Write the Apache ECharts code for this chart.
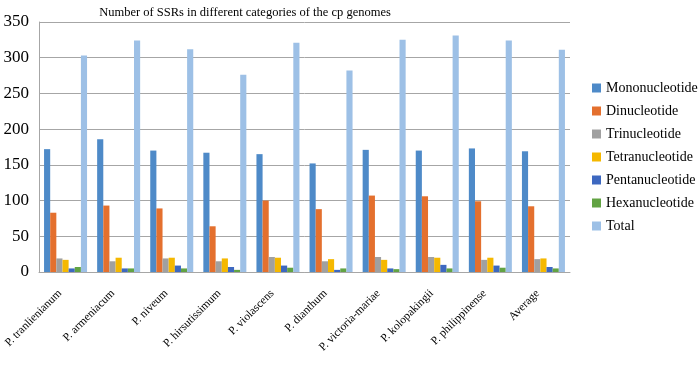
<!DOCTYPE html>
<html>
<head>
<meta charset="utf-8">
<script src="https://cdn.jsdelivr.net/npm/echarts@6/dist/echarts.min.js"></script>
<style>
  html, body { margin: 0; padding: 0; background: #fff; }
  #chart { width: 699px; height: 366px; }
</style>
</head>
<body>
<div id="chart"></div>
<script>
// categories
const species = ['P. tranlienianum', 'P. armeniacum', 'P. niveum', 'P. hirsutissimum', 'P. violascens',
  'P. dianthum', 'P. victoria-mariae', 'P. kolopakingii', 'P. philippinense', 'Average'];

// series values
const mono  = [172, 186, 170, 167, 165, 152, 171, 170, 173, 169];
const di    = [83, 93, 89, 64, 100, 88, 107, 106, 99, 92];
const tri   = [19, 15, 19, 15, 21, 15, 21, 21, 17, 18];
const tetra = [17, 20, 20, 19, 20, 18, 17, 20, 20, 19];
const penta = [5, 5, 9, 7, 9, 3, 5, 10, 9, 7];
const hexa  = [7, 5, 5, 3, 6, 5, 4, 5, 6, 5];
const total = [303, 324, 312, 276, 321, 282, 325, 331, 324, 311];

const seriesNames = ['Mononucleotide', 'Dinucleotide', 'Trinucleotide', 'Tetranucleotide',
  'Pentanucleotide', 'Hexanucleotide', 'Total'];
const seriesData = [mono, di, tri, tetra, penta, hexa, total];
const colors = ['#4e8ac8', '#e4702e', '#a0a0a0', '#f5b800', '#3d68c0', '#62a343', '#9dc0e6'];

const font = '"Liberation Serif", "Times New Roman", serif';

const myChart = echarts.init(document.getElementById('chart'));

const option = {
  animation: false,
  color: colors,
  title: {
    text: 'Number of SSRs in different categories of the cp genomes',
    left: 240,
    textAlign: 'center',
    top: 1,
    textStyle: { fontFamily: font, fontSize: 12.5, fontWeight: 'normal', color: '#000' }
  },
  legend: {
    orient: 'vertical',
    left: 587,
    top: 76,
    itemWidth: 9,
    itemHeight: 9,
    itemGap: 9,
    icon: 'rect',
    textStyle: { fontFamily: font, fontSize: 14, color: '#000' },
    data: seriesNames
  },
  grid: { left: 39, right: 129, top: 22, bottom: 94, outerBoundsMode: 'none' },
  xAxis: {
    type: 'category',
    data: species,
    axisLine: { lineStyle: { color: '#a6a6a6', width: 1 } },
    axisTick: { show: false },
    axisLabel: {
      interval: 0,
      rotate: 45,
      margin: 14,
      padding: [0, 8, 0, 0],
      fontFamily: font,
      fontSize: 11.5,
      color: '#000'
    }
  },
  yAxis: {
    type: 'value',
    min: 0,
    max: 350,
    interval: 50,
    axisLine: { show: true, lineStyle: { color: '#a6a6a6' } },
    axisTick: { show: false },
    splitLine: { lineStyle: { color: '#a6a6a6', width: 1 } },
    axisLabel: { fontFamily: font, fontSize: 17, color: '#000', margin: 10 }
  },
  series: seriesNames.map((name, i) => ({
    name: name,
    type: 'bar',
    data: seriesData[i],
    barGap: '0%',
    barCategoryGap: '19%'
  }))
};

myChart.setOption(option);
</script>
</body>
</html>
